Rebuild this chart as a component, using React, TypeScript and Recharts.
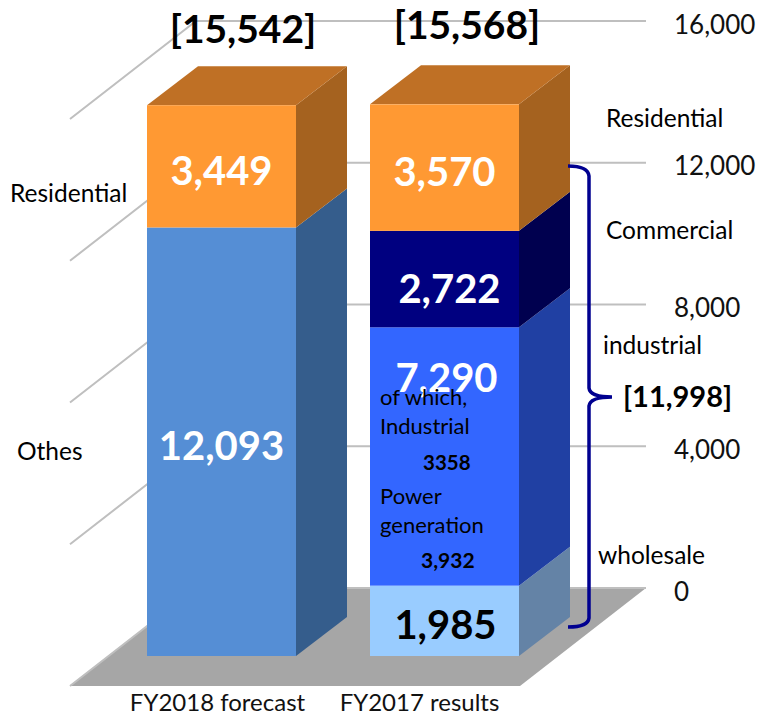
import React from 'react';
import { BarChart, Bar, XAxis, YAxis, CartesianGrid, LabelList } from 'recharts';

const categories = ['FY2018 forecast', 'FY2017 results'];
const others = [12093, null];
const wholesale = [null, 1985];
const industrial = [null, 7290];
const commercial = [null, 2722];
const residential = [3449, 3570];
const yTicks = [0, 4000, 8000, 12000, 16000];

const chartData = categories.map((name, i) => ({
  name,
  others: others[i],
  wholesale: wholesale[i],
  industrial: industrial[i],
  commercial: commercial[i],
  residential: residential[i],
}));

const FONT = 'Lato, sans-serif';
const DEPTH_X = 51;
const DEPTH_Y = 39;
const BASE_Y = 656;
const TICK_SHIFT = [-4, -25];

function barShape(front: string, side: string, top?: string) {
  return (props: any) => {
    const { x, y, width, height } = props;
    if (!height || height <= 0) return <g />;
    const r = x + width;
    const b = y + height;
    return (
      <g>
        <polygon
          points={`${r},${y} ${r + DEPTH_X},${y - DEPTH_Y} ${r + DEPTH_X},${b - DEPTH_Y} ${r},${b}`}
          fill={side}
        />
        {top && (
          <polygon
            points={`${x},${y} ${x + DEPTH_X},${y - DEPTH_Y} ${r + DEPTH_X},${y - DEPTH_Y} ${r},${y}`}
            fill={top}
          />
        )}
        <rect x={x} y={y} width={width} height={height} fill={front} />
      </g>
    );
  };
}

function barLabel(color: string, shift: number, shiftX = 0) {
  return (props: any) => {
    const { x, y, width, height, value } = props;
    if (value == null) return null;
    return (
      <text
        x={x + width / 2 + shiftX}
        y={y + height / 2 + shift}
        textAnchor="middle"
        dominantBaseline="middle"
        fill={color}
        fontFamily={FONT}
        fontWeight={700}
        fontSize={40}
      >
        {Number(value).toLocaleString('en-US')}
      </text>
    );
  };
}

// the wall sits behind the bars, the side wall runs towards the viewer
function wallLine(props: any) {
  const { x1, x2, y1, index } = props;
  const backY = y1 - 68;
  const backL = x1 + 86;
  const backR = x2 + 90;
  const frontY = y1 + 30;
  const frontL = x1 - 40;
  return (
    <g key={`wall-${index}`}>
      {Math.round(y1) >= BASE_Y && (
        <polygon
          points={`${frontL},${frontY} ${backL + 324},${frontY} ${backR},${backY} ${backL},${backY}`}
          fill="#a6a6a6"
        />
      )}
      <polyline
        points={`${frontL},${frontY} ${backL},${backY} ${backR},${backY}`}
        fill="none"
        stroke="#bfbfbf"
        strokeWidth={2}
      />
    </g>
  );
}

function YTick(props: any) {
  const { y, payload } = props;
  return (
    <text x={674} y={y - 62} dominantBaseline="middle" fontFamily={FONT} fontSize={26} fill="#111">
      {Number(payload.value).toLocaleString('en-US')}
    </text>
  );
}

function XTick(props: any) {
  const { x, payload, index } = props;
  return (
    <text
      x={x + TICK_SHIFT[index]}
      y={705}
      textAnchor="middle"
      dominantBaseline="middle"
      fontFamily={FONT}
      fontSize={24}
      fill="#111"
    >
      {payload.value}
    </text>
  );
}

function Note(props: { x: number; y: number; size?: number; bold?: boolean; anchor?: string; children: React.ReactNode }) {
  const { x, y, size = 24.5, bold, anchor = 'start', children } = props;
  return (
    <text
      x={x}
      y={y}
      textAnchor={anchor as any}
      dominantBaseline="middle"
      fontFamily={FONT}
      fontSize={size}
      fontWeight={bold ? 700 : 400}
      fill="#000"
    >
      {children}
    </text>
  );
}

export default function App() {
  return (
    <div style={{ position: 'absolute', left: 0, top: 0, width: 760, height: 715, background: '#fff' }}>
      <BarChart
        width={760}
        height={715}
        data={chartData}
        barSize={149}
        margin={{ top: 89, right: 104, bottom: 29, left: 110 }}
      >
        <CartesianGrid vertical={false} horizontal={wallLine} syncWithTicks />
        <XAxis dataKey="name" axisLine={false} tickLine={false} height={30} interval={0} tick={XTick} />
        <YAxis
          orientation="right"
          width={100}
          domain={[0, 16000]}
          ticks={yTicks}
          axisLine={false}
          tickLine={false}
          tick={YTick}
        />
        <Bar dataKey="others" stackId="a" isAnimationActive={false} shape={barShape('#558ed5', '#355d8c')}>
          <LabelList dataKey="others" content={barLabel('#fff', 8)} />
        </Bar>
        <Bar dataKey="wholesale" stackId="a" isAnimationActive={false} shape={barShape('#99ccff', '#6483a6')}>
          <LabelList dataKey="wholesale" content={barLabel('#000', 8, 1)} />
        </Bar>
        <Bar dataKey="industrial" stackId="a" isAnimationActive={false} shape={barShape('#3366ff', '#2040a3')}>
          <LabelList dataKey="industrial" content={barLabel('#fff', -75, 2)} />
        </Bar>
        <Bar dataKey="commercial" stackId="a" isAnimationActive={false} shape={barShape('#000080', '#00004f')}>
          <LabelList dataKey="commercial" content={barLabel('#fff', 14, 5)} />
        </Bar>
        <Bar
          dataKey="residential"
          stackId="a"
          isAnimationActive={false}
          shape={barShape('#ff9933', '#a5621f', '#bf7025')}
        >
          <LabelList dataKey="residential" content={barLabel('#fff', 8)} />
        </Bar>
      </BarChart>
      <svg width={760} height={715} style={{ position: 'absolute', left: 0, top: 0, pointerEvents: 'none' }}>
        <path
          d="M568 166 Q588 166 589 176 L589 388 Q590 397 612 397 Q590 397 589 406 L589 618 Q588 627 568 627"
          fill="none"
          stroke="#000090"
          strokeWidth={3.5}
        />
        <Note x={243} y={33} size={39} bold anchor="middle">[15,542]</Note>
        <Note x={467} y={29} size={39} bold anchor="middle">[15,568]</Note>
        <Note x={10} y={196}>Residential</Note>
        <Note x={17} y={454}>Othes</Note>
        <Note x={606} y={121}>Residential</Note>
        <Note x={606} y={233}>Commercial</Note>
        <Note x={603} y={348}>industrial</Note>
        <Note x={623} y={400} size={29} bold>[11,998]</Note>
        <Note x={598} y={558}>wholesale</Note>
        <Note x={380} y={399} size={22}>of which,</Note>
        <Note x={380} y={428} size={22}>Industrial</Note>
        <Note x={423} y={465} size={20.5} bold>3358</Note>
        <Note x={380} y={498} size={22}>Power</Note>
        <Note x={380} y={527} size={22}>generation</Note>
        <Note x={421} y={563} size={21} bold>3,932</Note>
      </svg>
    </div>
  );
}
